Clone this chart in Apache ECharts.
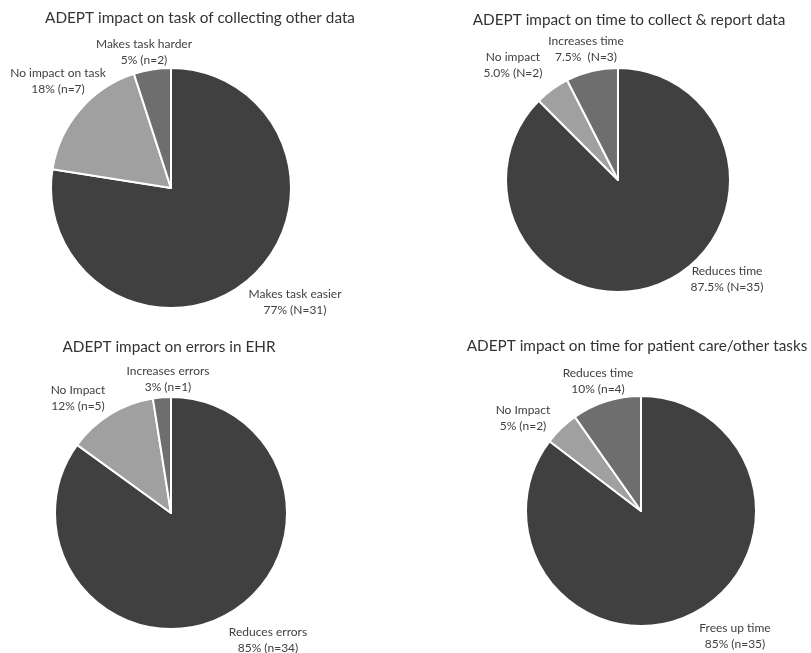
<!DOCTYPE html>
<html><head><meta charset="utf-8">
<script src="https://cdn.jsdelivr.net/npm/echarts@6/dist/echarts.min.js"></script>
<style>html,body{margin:0;padding:0;background:#fff}#c{width:811px;height:653px}</style>
</head><body><div id="c"></div>
<script>
const titles = [
  "ADEPT impact on task of collecting other data",
  "ADEPT impact on time to collect & report data",
  "ADEPT impact on errors in EHR",
  "ADEPT impact on time for patient care/other tasks"
];
const cats1 = ["Makes task easier", "No impact on task", "Makes task harder"];
const vals1 = [31, 7, 2];
const pct1 = ["77% (N=31)", "18% (n=7)", "5% (n=2)"];
const cats2 = ["Reduces time", "No impact", "Increases time"];
const vals2 = [35, 2, 3];
const pct2 = ["87.5% (N=35)", "5.0% (N=2)", "7.5%  (N=3)"];
const cats3 = ["Reduces errors", "No Impact", "Increases errors"];
const vals3 = [34, 5, 1];
const pct3 = ["85% (n=34)", "12% (n=5)", "3% (n=1)"];
const cats4 = ["Frees up time", "No Impact", "Reduces time"];
const vals4 = [35, 2, 4];
const pct4 = ["85% (n=35)", "5% (n=2)", "10% (n=4)"];

const colors = ["#404040", "#a0a0a0", "#6e6e6e"];
const font = "Lato, 'Open Sans', sans-serif";

const pies = [
  {cats: cats1, vals: vals1, pct: pct1, center: [171, 188], r: 120, title: [200, 20],
   lab: [[295, 302], [58, 81], [144, 52]]},
  {cats: cats2, vals: vals2, pct: pct2, center: [618, 180], r: 112, title: [629, 22],
   lab: [[727, 279], [513, 65], [586, 49]]},
  {cats: cats3, vals: vals3, pct: pct3, center: [171, 513], r: 116, title: [169, 349],
   lab: [[268, 640], [78, 398], [168, 379]]},
  {cats: cats4, vals: vals4, pct: pct4, center: [641, 511], r: 115, title: [637, 348],
   lab: [[735, 636], [523, 418], [598, 381]]}
];

const chart = echarts.init(document.getElementById('c'));
chart.setOption({
  animation: false,
  backgroundColor: '#fff',
  title: pies.map((p, i) => ({
    text: titles[i],
    left: p.title[0],
    top: p.title[1] - 9,
    padding: 0,
    textAlign: 'center',
    textStyle: {fontFamily: font, fontSize: 15.3, fontWeight: 'normal', color: '#333'}
  })),
  series: pies.map((p) => ({
    type: 'pie',
    center: p.center,
    radius: [0, p.r],
    startAngle: 90,
    clockwise: true,
    avoidLabelOverlap: false,
    itemStyle: {borderColor: '#fff', borderWidth: 2},
    label: {
      show: true,
      position: 'outside',
      fontFamily: font,
      fontSize: 12,
      lineHeight: 16,
      color: '#404040',
      align: 'center',
      formatter: (d) => p.cats[d.dataIndex] + '\n' + p.pct[d.dataIndex]
    },
    labelLine: {show: false},
    labelLayout: (params) => ({
      x: p.lab[params.dataIndex][0],
      y: p.lab[params.dataIndex][1],
      align: 'center',
      verticalAlign: 'middle'
    }),
    emphasis: {disabled: true},
    data: p.cats.map((c, j) => ({name: c, value: p.vals[j], itemStyle: {color: colors[j]}}))
  }))
});
</script></body></html>
